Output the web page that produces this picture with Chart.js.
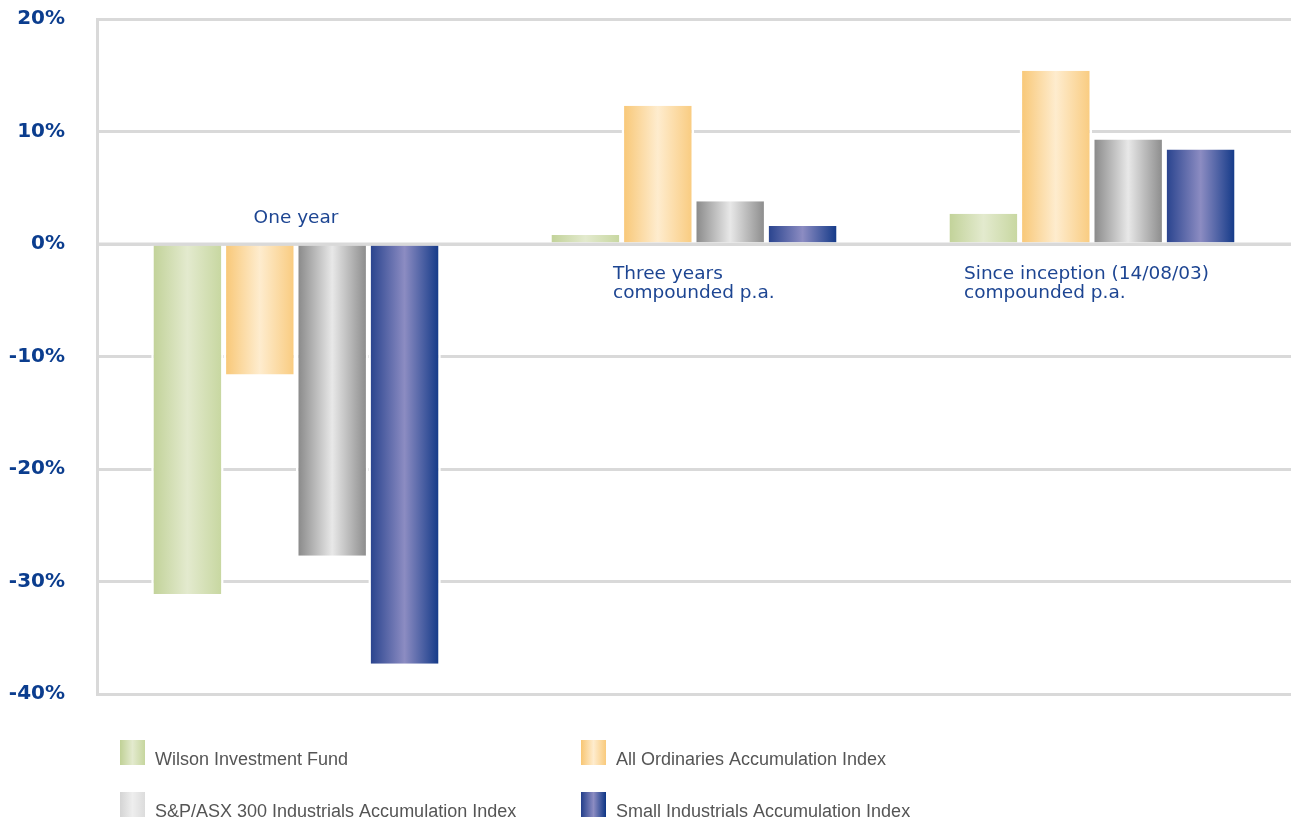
<!DOCTYPE html>
<html>
<head>
<meta charset="utf-8">
<title>Performance</title>
<script src="https://cdn.jsdelivr.net/npm/chart.js@4.4.0/dist/chart.umd.min.js"></script>
<style>
  html, body { margin: 0; padding: 0; background: #fff; }
  canvas { display: block; }
</style>
</head>
<body>
<canvas id="perf_canvas" width="1293" height="819"></canvas>
<script>
// chart data
var categories = [['One year'], ['Three years', 'compounded p.a.'], ['Since inception (14/08/03)', 'compounded p.a.']];
var seriesNames = ['Wilson Investment Fund', 'All Ordinaries Accumulation Index',
                   'S&P/ASX 300 Industrials Accumulation Index', 'Small Industrials Accumulation Index'];
var wilsonFund       = [-31.1, 0.8, 2.7];
var allOrds          = [-11.6, 12.3, 15.4];
var industrials300   = [-27.7, 3.8, 9.3];
var smallIndustrials = [-37.3, 1.6, 8.4];
var yMin = -40, yMax = 20, yStep = 10;

// left edge, middle highlight, right edge
var shades = [
  ['#c0d196', '#e3eace', '#c6d69e'],
  ['#f8c673', '#feecce', '#f9ca7c'],
  ['#848484', '#e8e8e8', '#878787'],
  ['#233f8b', '#8c8cc2', '#0d3585']
];
var legendShades = [shades[0], shades[1], ['#d4d4d4', '#eeeeee', '#dcdcdc'], shades[3]];

var catPct = 0.7275;
var gridColor = '#d9d9d9';
var blueText = '#1d4592';

function barGradient(ctx, x0, x1, s) {
  var g = ctx.createLinearGradient(x0, 0, x1, 0);
  g.addColorStop(0, s[0]);
  g.addColorStop(0.5, s[1]);
  g.addColorStop(1, s[2]);
  return g;
}

function fillFor(i) {
  return function (c) {
    var chart = c.chart, xs = chart.scales.x;
    if (c.type !== 'data' || !chart.chartArea || !xs) return shades[i][0];
    var slot = (xs.width / categories.length) * catPct / 4;
    var cx = xs.getPixelForValue(c.dataIndex) + (c.datasetIndex - 1.5) * slot;
    return barGradient(chart.ctx, cx - slot / 2, cx + slot / 2, shades[i]);
  };
}

var series = [wilsonFund, allOrds, industrials300, smallIndustrials];
var datasets = [];
for (var i = 0; i < series.length; i++) {
  datasets.push({
    label: seriesNames[i],
    data: series[i],
    backgroundColor: fillFor(i),
    borderColor: '#ffffff',
    borderWidth: { left: 2.5, right: 2.5, top: 0, bottom: 0 },
    borderSkipped: false,
    barPercentage: 1,
    categoryPercentage: catPct
  });
}

// zero line above the bars, category captions and the legend
var extrasPlugin = {
  id: 'extras',
  afterDatasetsDraw: function (chart) {
    var ctx = chart.ctx, area = chart.chartArea, ys = chart.scales.y;
    var y0 = ys.getPixelForValue(0);
    ctx.save();
    ctx.strokeStyle = gridColor;
    ctx.lineWidth = 3;
    ctx.beginPath();
    ctx.moveTo(area.left, y0);
    ctx.lineTo(area.right, y0);
    ctx.stroke();
    ctx.restore();
  },
  afterDraw: function (chart) {
    var ctx = chart.ctx, xs = chart.scales.x, ys = chart.scales.y;
    var y0 = ys.getPixelForValue(0);
    var captionPos = [
      { dx: 0, align: 'center', dy: -21 },
      { dx: -81, align: 'left', dy: 35 },
      { dx: -128, align: 'left', dy: 35 }
    ];
    ctx.save();
    ctx.fillStyle = blueText;
    ctx.font = '18.5px "DejaVu Sans", Verdana, sans-serif';
    ctx.textBaseline = 'alphabetic';
    for (var c = 0; c < categories.length; c++) {
      var cx = xs.getPixelForValue(c);
      var p = captionPos[c];
      ctx.textAlign = p.align;
      for (var l = 0; l < categories[c].length; l++) {
        ctx.fillText(categories[c][l], cx + p.dx, y0 + p.dy + l * 18.5);
      }
    }

    // legend
    var cols = [120, 581], rows = [740, 792];
    ctx.font = '18px "Liberation Sans", Arial, sans-serif';
    ctx.textAlign = 'left';
    for (var s = 0; s < seriesNames.length; s++) {
      var lx = cols[s % 2], ly = rows[Math.floor(s / 2)];
      ctx.fillStyle = barGradient(ctx, lx, lx + 25, legendShades[s]);
      ctx.fillRect(lx, ly, 25, 25);
      ctx.fillStyle = '#555555';
      ctx.fillText(seriesNames[s], lx + 35, ly + 25);
    }
    ctx.restore();
  }
};

var chart = new Chart(document.getElementById('perf_canvas'), {
  type: 'bar',
  data: { labels: categories, datasets: datasets },
  options: {
    responsive: false,
    animation: false,
    layout: { padding: { top: 19, right: 2, bottom: 125, left: 0 } },
    plugins: {
      legend: { display: false },
      tooltip: { enabled: false }
    },
    scales: {
      x: { display: false },
      y: {
        min: yMin,
        max: yMax,
        afterFit: function (scale) {
          scale.width = 97;
          scale.paddingTop = 12;
          scale.paddingBottom = 12;
        },
        ticks: {
          stepSize: yStep,
          padding: 32,
          color: '#0b3d8e',
          font: { family: '"DejaVu Sans", Verdana, sans-serif', size: 20, weight: 'bold' },
          callback: function (v) { return v + '%'; }
        },
        grid: { color: gridColor, lineWidth: 3, drawTicks: false },
        border: { display: true, color: gridColor, width: 3 }
      }
    }
  },
  plugins: [extrasPlugin]
});
</script>
</body>
</html>
